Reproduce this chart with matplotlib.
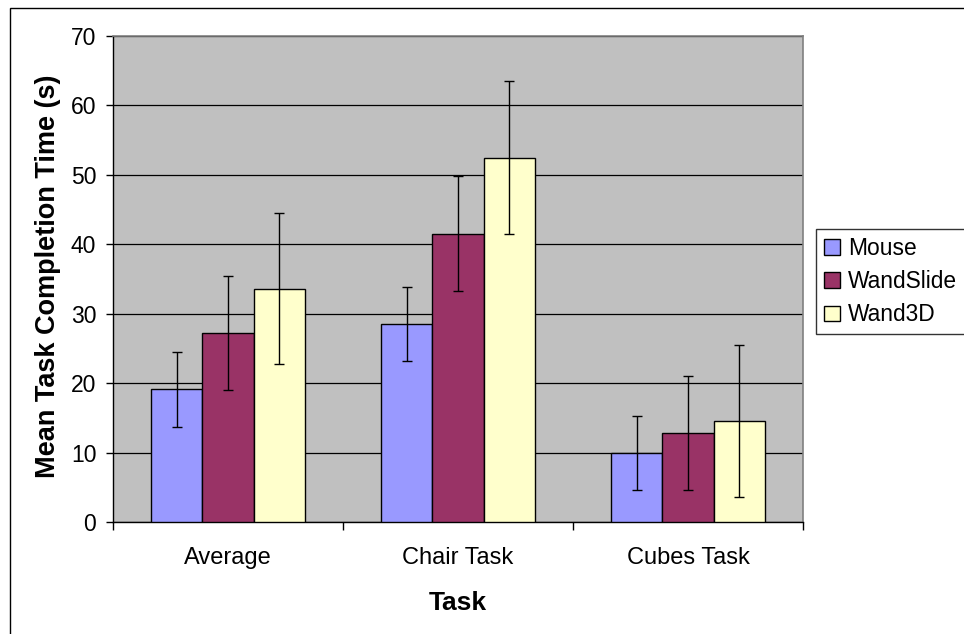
import matplotlib
matplotlib.use("Agg")
import matplotlib.pyplot as plt
import numpy as np
from matplotlib.patches import Rectangle

categories = ["Average", "Chair Task", "Cubes Task"]
series_names = ["Mouse", "WandSlide", "Wand3D"]
mouse = [19.1, 28.5, 9.9]
wandslide = [27.2, 41.5, 12.8]
wand3d = [33.6, 52.5, 14.6]
mouse_err = [5.4, 5.35, 5.3]
wandslide_err = [8.2, 8.3, 8.2]
wand3d_err = [10.9, 10.95, 10.95]
colors = ["#9999FF", "#993366", "#FFFFCC"]

plt.rcParams['font.family'] = ['Liberation Sans', 'DejaVu Sans']

W, H = 964, 634
fig = plt.figure(figsize=(W / 100, H / 100), dpi=100)
left, right, top, bottom = 113, 803, 36, 522
ax = fig.add_axes([left / W, 1 - bottom / H, (right - left) / W, (bottom - top) / H])
ax.set_facecolor("#C0C0C0")

# figure border
fig.patches.append(Rectangle((10 / W, -0.1), 1.2, 1 - 8 / H + 0.1, transform=fig.transFigure,
                             fill=False, edgecolor="black", linewidth=1.0))

x = np.arange(len(categories))
bw = 0.222
data = [mouse, wandslide, wand3d]
errs = [mouse_err, wandslide_err, wand3d_err]
for i, (vals, err, c, name) in enumerate(zip(data, errs, colors, series_names)):
    ax.bar(x + (i - 1) * bw, vals, bw, color=c, edgecolor="black", linewidth=1.0,
           label=name, zorder=3)
    ax.errorbar(x + (i - 1) * bw, vals, yerr=err, fmt="none", ecolor="black",
                elinewidth=1.0, capsize=3.3, capthick=1.0, zorder=4)

ax.set_xlim(-0.5, 2.5)
ax.set_ylim(0, 70)
ax.set_yticks(np.arange(0, 71, 10))
ax.yaxis.grid(True, color="black", linewidth=0.9, zorder=1)
ax.set_axisbelow(True)
ax.set_xticks([-0.5, 0.5, 1.5, 2.5])
ax.set_xticklabels([])
ax.set_xticks(x, minor=True)
ax.set_xticklabels(categories, minor=True, fontsize=17)
ax.tick_params(axis="x", which="minor", length=0, pad=18)
ax.tick_params(axis="x", which="major", length=5.5, direction="out", width=1)
ax.tick_params(axis="y", length=5, direction="out", width=1, labelsize=16.5, pad=7)

for s in ["top", "right"]:
    ax.spines[s].set_color("#808080")
    ax.spines[s].set_linewidth(1.2)
for s in ["left", "bottom"]:
    ax.spines[s].set_color("black")
    ax.spines[s].set_linewidth(1.0)

ax.set_xlabel("Task", fontsize=19, fontweight="bold")
ax.xaxis.set_label_coords(0.5, -0.142)
ax.set_ylabel("Mean Task Completion Time (s)", fontsize=19.5, fontweight="bold")
ax.yaxis.set_label_coords(-0.076, 0.506)

leg = ax.legend(loc="upper left", bbox_to_anchor=(816 / W, 1 - 229 / H),
                bbox_transform=fig.transFigure, borderaxespad=0, fontsize=16.4,
                frameon=True, fancybox=False, shadow=False, handlelength=0.7,
                handleheight=0.7, handletextpad=0.35, labelspacing=0.45,
                borderpad=0.35)
leg.get_frame().set_edgecolor("black")
leg.get_frame().set_linewidth(1.0)

fig.savefig("out.png", dpi=100)
